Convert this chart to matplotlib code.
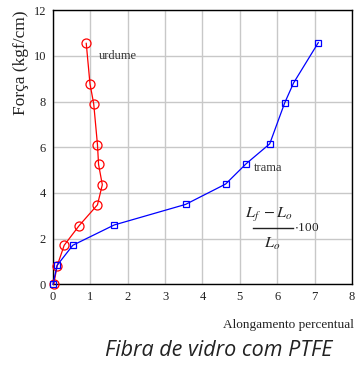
import matplotlib.pyplot as plt

# urdume (red, circles)
urdume_x = [0.02, 0.11, 0.30, 0.70, 1.19, 1.32, 1.22, 1.19, 1.09, 0.99, 0.89]
urdume_y = [0.00, 0.80, 1.71, 2.57, 3.48, 4.36, 5.25, 6.12, 7.90, 8.78, 10.55]

# trama (blue, squares)
trama_x = [0.00, 0.11, 0.53, 1.64, 3.55, 4.62, 5.17, 5.80, 6.20, 6.44, 7.10]
trama_y = [0.00, 0.83, 1.71, 2.60, 3.50, 4.39, 5.28, 6.15, 7.94, 8.82, 10.58]

xticks = [0, 1, 2, 3, 4, 5, 6, 7, 8]
yticks = [0, 2, 4, 6, 8, 10, 12]

plt.rcParams['font.family'] = ['Liberation Serif', 'DejaVu Serif']
plt.rcParams['mathtext.fontset'] = 'stix'

fig = plt.figure(figsize=(3.58, 3.65), dpi=100)
ax = fig.add_axes([0.148, 0.221, 0.835, 0.751])

ax.plot(urdume_x, urdume_y, color='red', lw=0.9, marker='o', ms=6.5,
        mfc='none', mec='red', mew=0.9, zorder=3, clip_on=False)
ax.plot(trama_x, trama_y, color='blue', lw=0.9, marker='s', ms=4.5,
        mfc='none', mec='blue', mew=0.9, zorder=3, clip_on=False)

ax.set_xlim(0, 8)
ax.set_ylim(0, 12)
ax.set_xticks(xticks)
ax.set_yticks(yticks)
ax.tick_params(length=0, labelsize=9, colors='#222222', pad=5)
ax.grid(True, color='#c8c8c8', lw=1.0)
ax.set_axisbelow(True)
for s in ax.spines.values():
    s.set_color('black')
    s.set_linewidth(1.0)

ax.text(1.23, 10.0, 'urdume', fontsize=9, color='#333333', va='center')
ax.text(5.37, 5.1, 'trama', fontsize=9, color='#333333', va='center')

# formula (Lf - Lo)/Lo * 100
ax.text(5.78, 3.05, r'$L_f\;-L_o$', fontsize=11.5, ha='center', va='center',
        color='#222222')
ax.plot([5.35, 6.42], [2.47, 2.47], color='#222222', lw=1.0)
ax.text(6.46, 2.47, r'$\cdot$100', fontsize=9.5, ha='left', va='center', color='#222222')
ax.text(5.86, 1.78, r'$L_o$', fontsize=11.5, ha='center', va='center',
        color='#222222')

fig.text(0.059, 0.972, 'Força (kgf/cm)', fontsize=12.5, rotation=90,
         ha='center', va='top', color='#222222')
fig.text(0.988, 0.11, 'Alongamento percentual', fontsize=9.5, ha='right',
         va='center', color='#222222')
fig.text(0.61, 0.04, 'Fibra de vidro com PTFE', fontsize=15.5, ha='center',
         va='center', family='Open Sans', style='italic', color='#222222')

fig.savefig('out.png', dpi=100)
